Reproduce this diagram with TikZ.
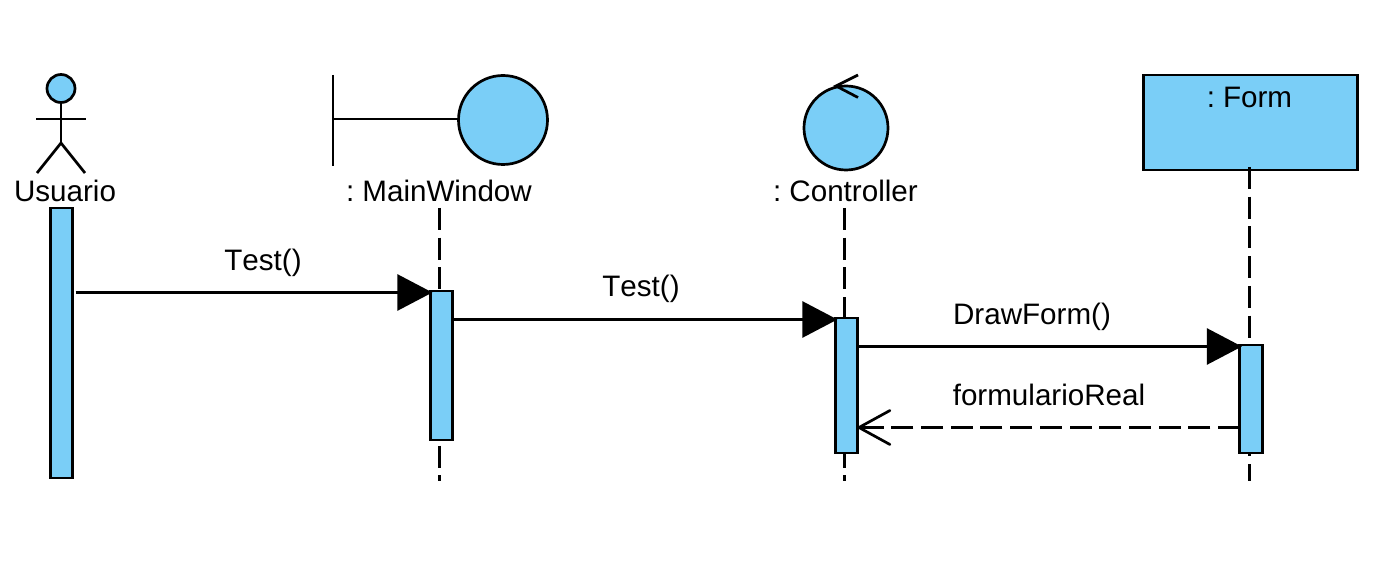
\documentclass[tikz,border=0pt]{standalone}
\usepackage{fontspec}
\setmainfont[Kerning=Off]{Liberation Sans}
\usetikzlibrary{arrows.meta}
\definecolor{umlblue}{HTML}{7ACEF7}
\tikzset{
  every picture/.style={line width=2.7pt},
  umlfill/.style={draw=black,fill=umlblue},
  activation/.style={umlfill,rectangle,inner sep=0pt,minimum width=22.5pt},
  label/.style={anchor=base,inner sep=0pt,font=\fontsize{29.6pt}{31pt}\selectfont},
  lifeline/.style={dash pattern=on 22pt off 7.7pt},
  sync/.style={shorten >=-3.5pt,-{Triangle[length=35pt,width=36pt,fill=black]}},
  reply/.style={dash pattern=on 22pt off 7.7pt,shorten >=-1.5pt,-{Straight Barb[length=31pt,width=34pt,line width=2.7pt,round=false]}}
}
\begin{document}
\begin{tikzpicture}[x=1pt,y=-1pt]
\useasboundingbox (0,0) rectangle (1374,580);
\fill[white] (0,0) rectangle (1374,580);

% lifelines
\coordinate (l2t) at (439.5,208); \coordinate (l2b) at (439.5,481);
\coordinate (l3t) at (844.5,208);   \coordinate (l3b) at (844.5,481);
\coordinate (l4t) at (1249.5,167);  \coordinate (l4b) at (1249.5,481);

% Form box (below its lifeline)
\node[umlfill,rectangle,inner sep=0pt,minimum width=213.5pt,minimum height=95pt] (form) at (1250.5,122.5) {};

\draw[lifeline] (l2t) -- (l2b);
\draw[lifeline] (l3t) -- (l3b);
\draw[lifeline] (l4t) -- (l4b);

% activations
\node[activation,minimum height=270pt] (a1) at (61.5,343) {};
\node[activation,minimum height=149pt] (a2) at (441.5,365.5) {};
\node[activation,minimum height=135pt] (a3) at (846.5,385.5) {};
\node[activation,minimum height=108pt] (a4) at (1251,399) {};

% actor
\node[umlfill,circle,inner sep=0pt,minimum size=28pt] (head) at (61,88.5) {};
\coordinate (hip) at (61,143);
\coordinate (armL) at (36,119); \coordinate (armR) at (86,119);
\coordinate (legL) at (37,173); \coordinate (legR) at (85,173);
\draw (head) -- (hip);
\draw (armL) -- (armR);
\draw (legL) -- (hip) -- (legR);

% boundary
\node[umlfill,circle,inner sep=0pt,minimum size=89pt] (bnd) at (503,120) {};
\coordinate (barT) at (333,75); \coordinate (barB) at (333,166); \coordinate (barM) at (333,119);
\draw (barT) -- (barB);
\draw (barM) -- (bnd.west |- barM);

% controller
\node[umlfill,circle,inner sep=0pt,minimum size=84pt] (ctl) at (846,128) {};
\coordinate (ctlTip) at (836,86); \coordinate (ctlA) at (858,75); \coordinate (ctlB) at (858,97.5);
\draw (ctlA) -- (ctlTip) -- (ctlB);

% labels
\node[label] (tUsuario) at (65,202) {Usuario};
\node[label] (tMain) at (439,202) {:\kern8pt MainWindow};
\node[label] (tCtl) at (845.5,202) {:\kern8pt Controller};
\node[label] (tForm) at (1249.5,108) {:\kern8pt Form};
\node[label] (tM1) at (263,270) {Test()};
\node[label] (tM2) at (641,297) {Test()};
\node[label] (tM3) at (1032,324) {DrawForm()};
\node[label] (tM4) at (1049,405) {formularioReal};

% messages
\coordinate (m1s) at (75.5,292.5);
\draw[sync] (m1s) -- (a2.west |- m1s);
\coordinate (m2s) at (453,319.5);
\draw[sync] (m2s) -- (a3.west |- m2s);
\coordinate (m3s) at (858,346.5);
\draw[sync] (m3s) -- (a4.west |- m3s);
\coordinate (m4s) at (1240,427.5);
\draw[reply] (m4s) -- (a3.east |- m4s);
\end{tikzpicture}
\end{document}
